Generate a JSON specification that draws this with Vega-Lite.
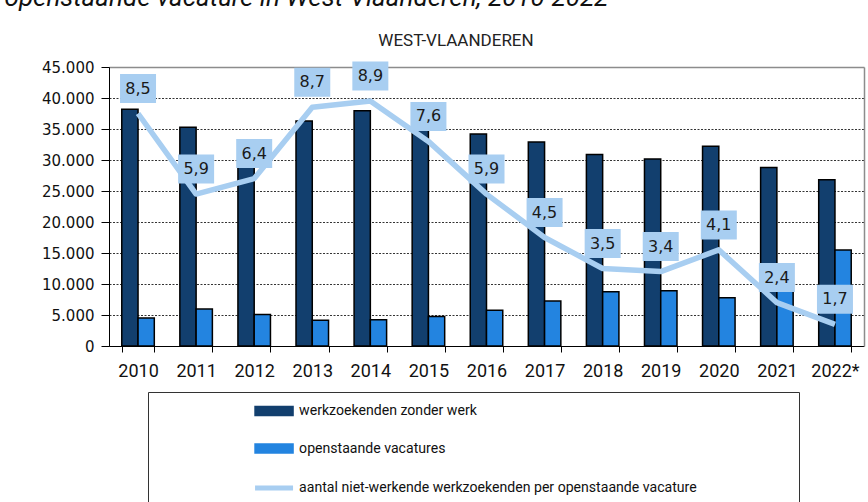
{
  "$schema": "https://vega.github.io/schema/vega-lite/v6.json",
  "width": 755,
  "height": 279,
  "autosize": {"type": "none"},
  "padding": {"left": 109, "top": 67, "right": 4, "bottom": 156},
  "background": "white",
  "config": {
    "locale": {"number": {"decimal": ",", "thousands": ".", "grouping": [3], "currency": ["€", ""]}},
    "view": {"stroke": null},
    "font": "Roboto"
  },
  "datasets": {
    "bars": [
      {"year": "2010", "series": "werkzoekenden zonder werk", "value": 38200},
      {"year": "2010", "series": "openstaande vacatures", "value": 4500},
      {"year": "2011", "series": "werkzoekenden zonder werk", "value": 35300},
      {"year": "2011", "series": "openstaande vacatures", "value": 5950},
      {"year": "2012", "series": "werkzoekenden zonder werk", "value": 32700},
      {"year": "2012", "series": "openstaande vacatures", "value": 5100},
      {"year": "2013", "series": "werkzoekenden zonder werk", "value": 36300},
      {"year": "2013", "series": "openstaande vacatures", "value": 4150},
      {"year": "2014", "series": "werkzoekenden zonder werk", "value": 37950},
      {"year": "2014", "series": "openstaande vacatures", "value": 4250},
      {"year": "2015", "series": "werkzoekenden zonder werk", "value": 36000},
      {"year": "2015", "series": "openstaande vacatures", "value": 4750},
      {"year": "2016", "series": "werkzoekenden zonder werk", "value": 34200},
      {"year": "2016", "series": "openstaande vacatures", "value": 5750},
      {"year": "2017", "series": "werkzoekenden zonder werk", "value": 32900},
      {"year": "2017", "series": "openstaande vacatures", "value": 7250},
      {"year": "2018", "series": "werkzoekenden zonder werk", "value": 30900},
      {"year": "2018", "series": "openstaande vacatures", "value": 8750},
      {"year": "2019", "series": "werkzoekenden zonder werk", "value": 30150},
      {"year": "2019", "series": "openstaande vacatures", "value": 8900},
      {"year": "2020", "series": "werkzoekenden zonder werk", "value": 32200},
      {"year": "2020", "series": "openstaande vacatures", "value": 7800},
      {"year": "2021", "series": "werkzoekenden zonder werk", "value": 28800},
      {"year": "2021", "series": "openstaande vacatures", "value": 12000},
      {"year": "2022*", "series": "werkzoekenden zonder werk", "value": 26800},
      {"year": "2022*", "series": "openstaande vacatures", "value": 15500}
    ],
    "ratio": [
      {"year": "2010", "ratio": 8.5},
      {"year": "2011", "ratio": 5.9},
      {"year": "2012", "ratio": 6.4},
      {"year": "2013", "ratio": 8.7},
      {"year": "2014", "ratio": 8.9},
      {"year": "2015", "ratio": 7.6},
      {"year": "2016", "ratio": 5.9},
      {"year": "2017", "ratio": 4.5},
      {"year": "2018", "ratio": 3.5},
      {"year": "2019", "ratio": 3.4},
      {"year": "2020", "ratio": 4.1},
      {"year": "2021", "ratio": 2.4},
      {"year": "2022*", "ratio": 1.7}
    ]
  },
  "layer": [
    {
      "data": {"name": "bars"},
      "mark": {"type": "bar", "stroke": "black", "strokeWidth": 1.5},
      "encoding": {
        "x": {
          "field": "year", "type": "nominal", "sort": null,
          "scale": {"paddingInner": 0.44, "paddingOuter": 0.22},
          "axis": {
            "title": null, "orient": "bottom", "labelAngle": 0,
            "labelFont": "Roboto", "labelFontSize": 18, "labelColor": "#111111",
            "labelPadding": 10, "tickBand": "extent", "tickSize": 6,
            "tickColor": "black", "tickWidth": 1, "domainColor": "black", "domainWidth": 1,
            "grid": false
          }
        },
        "xOffset": {
          "field": "series", "type": "nominal",
          "sort": ["werkzoekenden zonder werk", "openstaande vacatures"],
          "scale": {"paddingInner": 0, "paddingOuter": 0}
        },
        "y": {
          "field": "value", "type": "quantitative",
          "scale": {"domain": [0, 45000], "nice": false},
          "axis": {
            "title": null, "orient": "left",
            "values": [0, 5000, 10000, 15000, 20000, 25000, 30000, 35000, 40000, 45000],
            "format": ",d",
            "labelFont": "DejaVu Sans", "labelFontSize": 15, "labelColor": "#111111",
            "labelPadding": 7, "tickSize": 8, "tickColor": "black", "tickWidth": 1,
            "domainColor": "black", "domainWidth": 1,
            "grid": true, "gridColor": "#333333", "gridDash": [2, 1.5], "gridWidth": 1
          }
        },
        "color": {
          "field": "series", "type": "nominal",
          "scale": {
            "domain": ["werkzoekenden zonder werk", "openstaande vacatures", "aantal niet-werkende werkzoekenden per openstaande vacature"],
            "range": ["#123f6e", "#2384e0", "#a8cef1"]
          },
          "legend": {
            "title": " ",
            "titleOrient": "right",
            "titlePadding": 90,
            "orient": "none",
            "legendX": 39,
            "legendY": 325,
            "direction": "vertical",
            "padding": 12,
            "strokeColor": "#333333",
            "fillColor": "white",
            "labelFont": "Roboto",
            "labelFontSize": 14.1,
            "labelColor": "#111111",
            "labelLimit": 600,
            "rowPadding": 21.5,
            "symbolSize": 100,
            "symbolOffset": 107,
            "labelOffset": 18,
            "encoding": {
              "symbols": {
                "shape": {"value": {"expr": "datum.value === 'aantal niet-werkende werkzoekenden per openstaande vacature' ? 'M-3.8,0H3.8' : 'M-3.8,-0.9H3.8V0.9H-3.8Z'"}},
                "stroke": {"value": {"expr": "datum.value === 'aantal niet-werkende werkzoekenden per openstaande vacature' ? '#a8cef1' : 'black'"}},
                "strokeWidth": {"value": {"expr": "datum.value === 'aantal niet-werkende werkzoekenden per openstaande vacature' ? 5 : 1.5"}},
                "fill": {"value": {"expr": "datum.value === 'aantal niet-werkende werkzoekenden per openstaande vacature' ? 'transparent' : (datum.value === 'werkzoekenden zonder werk' ? '#123f6e' : '#2384e0')"}},
                "opacity": {"value": 1}
              }
            }
          }
        }
      }
    },
    {
      "data": {"name": "ratio"},
      "layer": [
        {
          "mark": {"type": "line", "strokeWidth": 5.5, "strokeJoin": "round", "strokeCap": "butt"},
          "encoding": {
            "x": {
              "field": "year", "type": "nominal", "sort": null,
              "axis": {
                "orient": "top", "labels": false, "ticks": false,
                "domainColor": "#8c8c8c", "domainWidth": 1.5, "grid": false,
                "title": "openstaande vacature in West-Vlaanderen, 2010-2022",
                "titleFont": "Roboto", "titleFontSize": 26, "titleFontStyle": "italic",
                "titleFontWeight": "normal", "titleColor": "#111111", "titleLimit": 1000,
                "titleX": -105, "titleY": -61.5, "titleBaseline": "alphabetic", "titleAlign": "left", "titleAnchor": null
              }
            },
            "y": {
              "field": "ratio", "type": "quantitative",
              "scale": {"domain": [1, 10], "nice": false, "zero": false},
              "axis": {
                "orient": "right", "labels": false, "ticks": false,
                "domainColor": "#8c8c8c", "domainWidth": 1.5, "grid": false,
                "title": "WEST-VLAANDEREN", "titleFont": "Roboto", "titleFontSize": 17,
                "titleFontWeight": "normal", "titleColor": "#222222", "titleAngle": 0,
                "titleX": -408.5, "titleY": -21.3, "titleBaseline": "alphabetic", "titleAlign": "center", "titleAnchor": null
              }
            },
            "color": {"datum": "aantal niet-werkende werkzoekenden per openstaande vacature"}
          }
        },
        {
          "mark": {"type": "point", "shape": "M-3.6,-2.9H3.6V2.9H-3.6Z", "size": 100, "filled": true, "fill": "#a8cef1", "opacity": 1, "strokeWidth": 0, "yOffset": -25},
          "encoding": {
            "x": {"field": "year", "type": "nominal", "sort": null},
            "y": {"field": "ratio", "type": "quantitative"}
          }
        },
        {
          "mark": {"type": "text", "font": "DejaVu Sans", "fontSize": 16, "color": "#1a1a1a", "baseline": "middle", "align": "center", "yOffset": -25},
          "encoding": {
            "x": {"field": "year", "type": "nominal", "sort": null},
            "y": {"field": "ratio", "type": "quantitative"},
            "text": {"field": "ratio", "type": "quantitative", "format": ".1f"}
          }
        }
      ]
    }
  ],
  "resolve": {
    "scale": {"y": "independent"},
    "axis": {"x": "independent", "y": "independent"}
  }
}
